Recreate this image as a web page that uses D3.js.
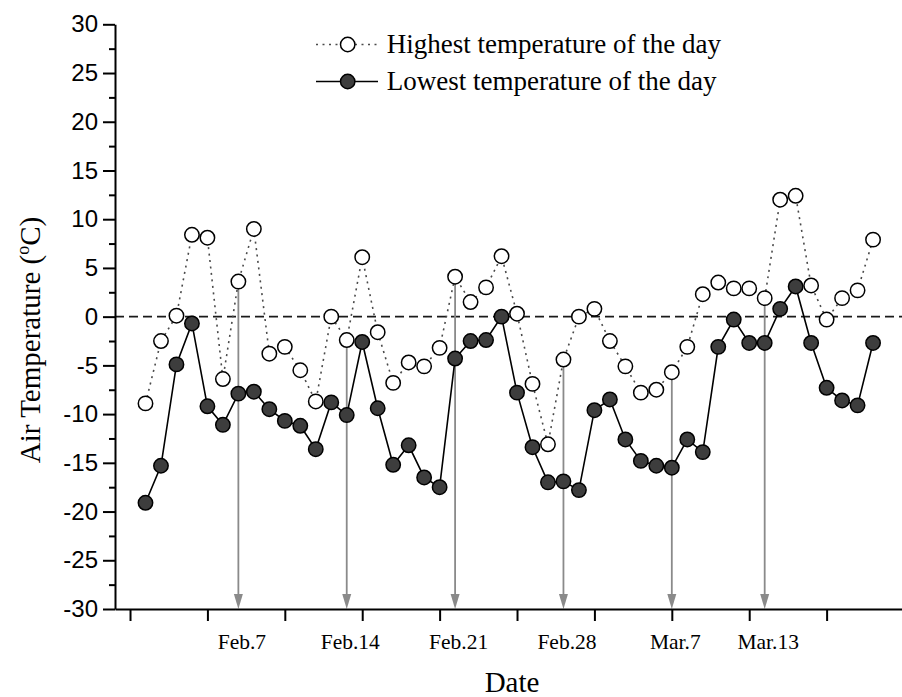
<!DOCTYPE html>
<html><head><meta charset="utf-8">
<script src="https://cdn.jsdelivr.net/npm/d3@7"></script>
<style>body{margin:0;background:#fff}svg{display:block}</style>
</head><body>
<svg id="c" width="902" height="697"></svg>
<script>
// ---- data ----
const days = [1,2,3,4,5,6,7,8,9,10,11,12,13,14,15,16,17,18,19,20,21,22,23,24,
              25,26,27,28,29,30,31,32,33,34,35,36,37,38,39,40,41,42,43,44,45,46,47,48];
const highTemp = [-8.9,-2.5,0.1,8.4,8.1,-6.4,3.6,9.0,-3.8,-3.1,-5.5,-8.7,
                  0.0,-2.4,6.1,-1.6,-6.8,-4.7,-5.1,-3.2,4.1,1.5,3.0,6.2,
                  0.3,-6.9,-13.1,-4.4,0.0,0.8,-2.5,-5.1,-7.8,-7.5,-5.7,-3.1,
                  2.3,3.5,2.9,2.9,1.9,12.0,12.4,3.2,-0.3,1.9,2.7,7.9];
const lowTemp = [-19.1,-15.3,-4.9,-0.7,-9.2,-11.1,-7.9,-7.7,-9.5,-10.7,-11.2,-13.6,
                 -8.8,-10.1,-2.6,-9.4,-15.2,-13.2,-16.5,-17.5,-4.3,-2.5,-2.4,0.0,
                 -7.8,-13.4,-17.0,-16.9,-17.8,-9.6,-8.5,-12.6,-14.8,-15.3,-15.5,-12.6,
                 -13.9,-3.1,-0.3,-2.7,-2.7,0.8,3.1,-2.7,-7.3,-8.6,-9.1,-2.7];
const yTicks = [-30,-25,-20,-15,-10,-5,0,5,10,15,20,25,30];
const yMinorTicks = [-27.5,-22.5,-17.5,-12.5,-7.5,-2.5,2.5,7.5,12.5,17.5,22.5,27.5];
const xTickDays = [0,5,10,15,20,25,30,35,40,45];
const labelDays = [7,14,21,28,35,41];
const labelNames = ["Feb.7","Feb.14","Feb.21","Feb.28","Mar.7","Mar.13"];
const seriesNames = ["Highest temperature of the day","Lowest temperature of the day"];

// ---- chart ----
const svg = d3.select("#c");
const x = d3.scaleLinear().domain([-0.97, 49.87]).range([115, 902]);
const y = d3.scaleLinear().domain([-30, 30]).range([609, 24.3]);
const serif = "'Liberation Serif','Times New Roman',serif";
const sans = "'Liberation Sans',Arial,sans-serif";

// zero line
svg.append("line")
  .attr("x1", x.range()[0]).attr("x2", x.range()[1])
  .attr("y1", y(0)).attr("y2", y(0))
  .attr("stroke", "#1a1a1a").attr("stroke-width", 1.6).attr("stroke-dasharray", "9,5");

// arrows
const arrows = svg.append("g");
labelDays.forEach(d => {
  const xv = x(d), top = y(highTemp[d - 1]), bot = y(-30);
  arrows.append("line").attr("x1", xv).attr("x2", xv).attr("y1", top).attr("y2", bot - 12)
    .attr("stroke", "#8a8a8a").attr("stroke-width", 1.8);
  arrows.append("path")
    .attr("d", `M${xv - 4.5},${bot - 15}L${xv + 4.5},${bot - 15}L${xv},${bot}Z`)
    .attr("fill", "#8a8a8a");
});

// axes
const yAxis = svg.append("g").attr("transform", `translate(${x.range()[0]},0)`)
  .call(d3.axisLeft(y).tickValues(yTicks).tickSize(12).tickSizeOuter(0).tickPadding(5)
        .tickFormat(d => String(d)));
yAxis.selectAll("text").attr("font-family", sans).attr("font-size", 24).attr("fill", "#000");
const yMinor = svg.append("g").attr("transform", `translate(${x.range()[0]},0)`)
  .call(d3.axisLeft(y).tickValues(yMinorTicks).tickSize(6).tickFormat(""));
yMinor.select(".domain").remove();

const xAxis = svg.append("g").attr("transform", `translate(0,${y(-30)})`)
  .call(d3.axisBottom(x).tickValues(xTickDays).tickSize(12).tickSizeOuter(0).tickFormat(""));
const xLab = svg.append("g").attr("transform", `translate(0,${y(-30)})`)
  .call(d3.axisBottom(x).tickValues(labelDays).tickSize(0).tickPadding(25)
        .tickFormat((d, i) => labelNames[i]));
xLab.select(".domain").remove();
xLab.selectAll("text").attr("font-family", serif).attr("font-size", 21.5).attr("fill", "#000")
  .attr("dx", 3);

svg.selectAll(".domain, .tick line").attr("stroke", "#000").attr("stroke-width", 2);

// titles
svg.append("text").attr("x", 512).attr("y", 692).attr("text-anchor", "middle")
  .attr("font-family", serif).attr("font-size", 29).text("Date");
const yt = svg.append("text").attr("transform", "translate(40,340) rotate(-90)")
  .attr("text-anchor", "middle").attr("font-family", serif).attr("font-size", 29);
yt.append("tspan").text("Air Temperature (");
yt.append("tspan").attr("font-size", 18).attr("dy", -11).text("o");
yt.append("tspan").attr("dy", 11).text("C)");

// series
const hiData = days.map((d, i) => ({ d, v: highTemp[i] }));
const loData = days.map((d, i) => ({ d, v: lowTemp[i] }));
const line = d3.line().x(p => x(p.d)).y(p => y(p.v));

svg.append("path").datum(hiData).attr("d", line).attr("fill", "none")
  .attr("stroke", "#4a4a4a").attr("stroke-width", 1.6).attr("stroke-dasharray", "2,4.5");
svg.append("path").datum(loData).attr("d", line).attr("fill", "none")
  .attr("stroke", "#000").attr("stroke-width", 1.6);

svg.append("g").selectAll("circle").data(hiData).join("circle")
  .attr("cx", p => x(p.d)).attr("cy", p => y(p.v)).attr("r", 7.2)
  .attr("fill", "#fff").attr("stroke", "#000").attr("stroke-width", 1.5);
svg.append("g").selectAll("circle").data(loData).join("circle")
  .attr("cx", p => x(p.d)).attr("cy", p => y(p.v)).attr("r", 7.2)
  .attr("fill", "#3d3d3d").attr("stroke", "#000").attr("stroke-width", 1.5);

// legend
const legRows = [
  { name: seriesNames[0], cy: 44.5, fill: "#fff", dash: "2,4.5", stroke: "#4a4a4a" },
  { name: seriesNames[1], cy: 81.5, fill: "#3d3d3d", dash: null, stroke: "#000" }
];
legRows.forEach(r => {
  const g = svg.append("g");
  g.append("line").attr("x1", 316).attr("x2", 378).attr("y1", r.cy).attr("y2", r.cy)
    .attr("stroke", r.stroke).attr("stroke-width", 1.6)
    .attr("stroke-dasharray", r.dash);
  g.append("circle").attr("cx", 347.7).attr("cy", r.cy).attr("r", 7.2)
    .attr("fill", r.fill).attr("stroke", "#000").attr("stroke-width", 1.5);
  g.append("text").attr("x", 386.7).attr("y", r.cy + 8.5)
    .attr("font-family", serif).attr("font-size", 27).attr("fill", "#000").text(r.name);
});
</script>
</body></html>
